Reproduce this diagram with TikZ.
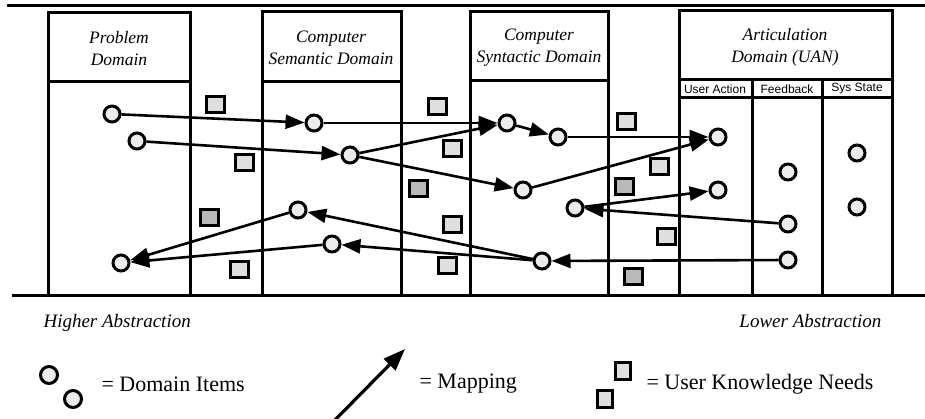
\documentclass[tikz,border=0pt]{standalone}
\usepackage{fontspec}
\setmainfont{Liberation Serif}
\newfontfamily\uanfont{Liberation Sans}
\usetikzlibrary{arrows.meta}
\begin{document}
\begin{tikzpicture}[
  x=1pt, y=-1pt,
  frame/.style={line width=3pt},
  head/.style={font=\fontsize{17.5}{22}\selectfont\itshape, align=center},
  col/.style={font=\uanfont\fontsize{12}{12}\selectfont},
  item/.style={circle, draw, line width=3pt, fill=gray!15, minimum size=16pt, inner sep=0pt},
  need/.style={rectangle, draw, line width=3pt, fill=gray!25, minimum width=18pt, minimum height=16pt, inner sep=0pt},
  darkneed/.style={need, fill=gray!55},
  map/.style={line width=2.6pt, -{Triangle[length=19pt,width=14pt]}},
  note/.style={font=\fontsize{19}{19}\selectfont\itshape},
  key/.style={font=\fontsize{22}{22}\selectfont, anchor=west}
]
\useasboundingbox (0,0) rectangle (925,419);
\draw[frame] (7,6) -- (925,6);
\draw[frame] (12,295) -- (925,295);
\draw[frame] (48,13) rectangle (190,295);
\draw[frame] (48,82) -- (190,82);
\draw[frame] (262,12) rectangle (401,295);
\draw[frame] (262,82) -- (401,82);
\draw[frame] (470,12) rectangle (608,295);
\draw[frame] (470,81) -- (608,81);
\draw[frame] (679,11) rectangle (892,295);
\draw[frame] (679,80) -- (892,80);
\draw[frame] (679,98) -- (892,98);
\draw[frame] (752,80) -- (752,295);
\draw[frame] (822,80) -- (822,295);

\node[head] (problem) at (119,49) {Problem\\Domain};
\node[head] (semantic) at (331,48) {Computer\\Semantic Domain};
\node[head] (syntactic) at (539,48) {Computer\\Syntactic Domain};
\node[head] (artic) at (785,47) {Articulation\\Domain (UAN)};
\node[col] (useraction) at (715,89) {User Action};
\node[col] (feedback) at (787,89) {Feedback};
\node[col] (sysstate) at (857,89) {Sys State};

\node[item] (p1) at (112,114) {};
\node[item] (p2) at (137,141) {};
\node[item] (p3) at (121,263) {};
\node[item] (s1) at (314,123) {};
\node[item] (s2) at (350,155) {};
\node[item] (s3) at (298,210) {};
\node[item] (s4) at (332,244) {};
\node[item] (y1) at (507,123) {};
\node[item] (y2) at (558,137) {};
\node[item] (y3) at (523,190) {};
\node[item] (y4) at (575,208) {};
\node[item] (y5) at (542,261) {};
\node[item] (a1) at (718,137) {};
\node[item] (a2) at (718,190) {};
\node[item] (f1) at (788,172) {};
\node[item] (f2) at (788,224) {};
\node[item] (f3) at (788,260) {};
\node[item] (st1) at (857,153) {};
\node[item] (st2) at (857,207) {};

\node[need] (k1) at (215,105) {};
\node[need] (k2) at (244,163) {};
\node[darkneed] (k3) at (209,218) {};
\node[need] (k4) at (239,270) {};
\node[need] (k5) at (437,107) {};
\node[need] (k6) at (452,149) {};
\node[darkneed] (k7) at (418,189) {};
\node[need] (k8) at (452,225) {};
\node[need] (k9) at (447,266) {};
\node[need] (k10) at (626,122) {};
\node[need] (k11) at (659,167) {};
\node[darkneed] (k12) at (624,187) {};
\node[need] (k13) at (666,237) {};
\node[darkneed] (k14) at (633,277) {};

\draw[map] (p1) -- (s1);
\draw[map] (p2) -- (s2);
\draw[map] (s1) -- (y1);
\draw[map] (s2) -- (y1);
\draw[map] (y1) -- (y2);
\draw[map] (s2) -- (y3);
\draw[map] (y2) -- (a1);
\draw[map] (y3) -- (a1);
\draw[map] (y4) -- (a2);
\draw[map] (f2) -- (y4);
\draw[map] (f3) -- (y5);
\draw[map] (y5) -- (s3);
\draw[map] (y5) -- (s4);
\draw[map] (s3) -- (p3);
\draw[map] (s4) -- (p3);

\node[note, anchor=west] (higher) at (40,323) {Higher Abstraction};
\node[note, anchor=east] (lower) at (885,321) {Lower Abstraction};

\node[item, minimum size=17pt] (ki1) at (49,375) {};
\node[item, minimum size=17pt] (ki2) at (73,399) {};
\node[key] (kitems) at (98,384) {= Domain Items};
\coordinate (mapfrom) at (334,421);
\coordinate (mapto) at (405,349);
\draw[map, line width=3.2pt, -{Triangle[length=22pt,width=16pt]}] (mapfrom) -- (mapto);
\node[key] (kmap) at (416,384) {= Mapping};
\node[need, minimum width=15pt, minimum height=17pt] (kn1) at (623,371) {};
\node[need, minimum width=15pt, minimum height=17pt] (kn2) at (605,399) {};
\node[key] (kneeds) at (643,384) {= User Knowledge Needs};
\end{tikzpicture}
\end{document}
